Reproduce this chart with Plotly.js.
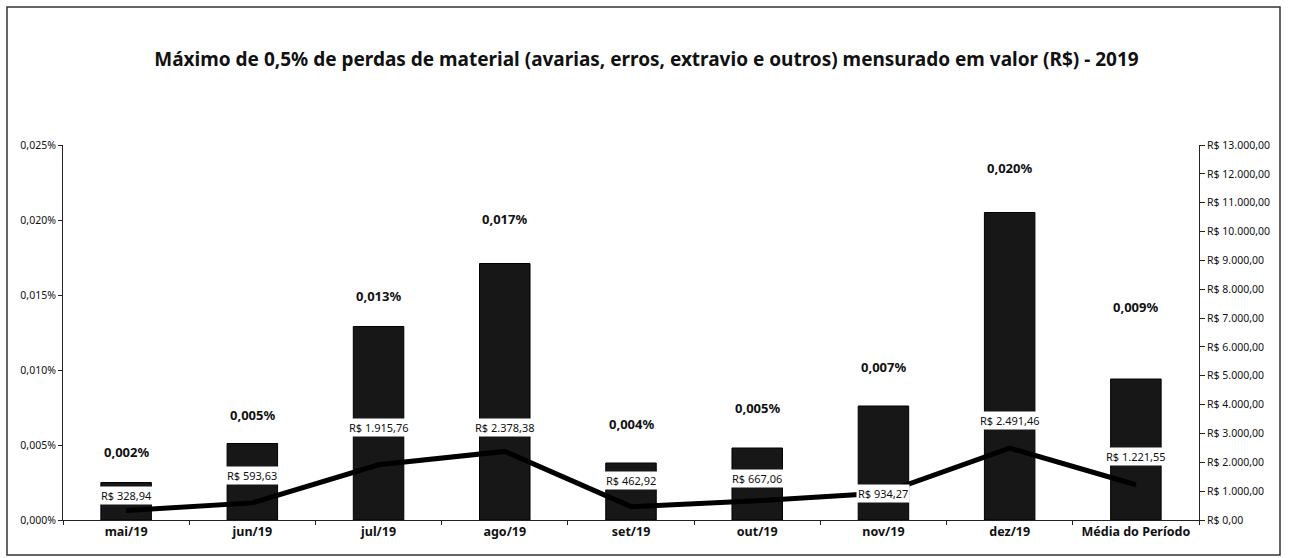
<!DOCTYPE html>
<html>
<head>
<meta charset="utf-8">
<script src="https://cdn.plot.ly/plotly-3.0.1.min.js"></script>
<style>html,body{margin:0;padding:0;background:#fff;}#chart{width:1293px;height:558px;}</style>
</head>
<body>
<div id="chart"></div>
<script>
// ---- data ----
const categories = ["mai/19", "jun/19", "jul/19", "ago/19", "set/19", "out/19", "nov/19", "dez/19", "Média do Período"];
const lossPercent = [0.0025, 0.0051, 0.0129, 0.0171, 0.0038, 0.0048, 0.0076, 0.0205, 0.0094];
const percentLabels = ["0,002%", "0,005%", "0,013%", "0,017%", "0,004%", "0,005%", "0,007%", "0,020%", "0,009%"];
const lossValue = [328.94, 593.63, 1915.76, 2378.38, 462.92, 667.06, 934.27, 2491.46, 1221.55];
const valueLabels = ["R$ 328,94", "R$ 593,63", "R$ 1.915,76", "R$ 2.378,38", "R$ 462,92", "R$ 667,06", "R$ 934,27", "R$ 2.491,46", "R$ 1.221,55"];

// ---- label placement (layout only) ----
const pctShift = [31, 29, 31, 45, 39, 40, 39, 45, 72];
const valShift = [15, 27, 37, 24, 26, 22, 0, 28, 28];

const FONT = "Noto Sans, Open Sans, sans-serif";

const bars = {
  type: "bar", x: categories, y: lossPercent, yaxis: "y",
  marker: {color: "#171717", line: {color: "#000", width: 1}},
  width: 0.4, hoverinfo: "skip", showlegend: false
};
const line = {
  type: "scatter", mode: "lines", x: categories, y: lossValue, yaxis: "y2",
  line: {color: "#000", width: 5}, hoverinfo: "skip", showlegend: false
};

const annotations = [];
categories.forEach((c, i) => {
  annotations.push({
    x: c, y: lossPercent[i], xref: "x", yref: "y", text: "<b>" + percentLabels[i] + "</b>",
    showarrow: false, yanchor: "middle", yshift: pctShift[i],
    font: {family: FONT, size: 13, color: "#111"}
  });
  annotations.push({
    x: c, y: lossValue[i], xref: "x", yref: "y2", text: valueLabels[i],
    showarrow: false, yanchor: "middle", yshift: valShift[i],
    bgcolor: "#fff", borderpad: 1,
    font: {family: FONT, size: 11, color: "#111"}
  });
});

const layout = {
  width: 1293, height: 558,
  margin: {l: 63, r: 94, t: 145, b: 38},
  paper_bgcolor: "#fff", plot_bgcolor: "#fff",
  separators: ",.",
  title: {text: "<b>Máximo de 0,5% de perdas de material (avarias, erros, extravio e outros) mensurado em valor (R$) - 2019</b>",
    x: 0.5, xanchor: "center", y: 0.893, yanchor: "middle",
    font: {family: FONT, size: 19, color: "#111"}},
  xaxis: {
    type: "category", showline: true, linecolor: "#222", linewidth: 1,
    ticks: "outside", tickson: "boundaries", ticklen: 4, tickcolor: "#222",
    tickfont: {family: FONT, size: 12.5, color: "#111", weight: "bold"},
    showgrid: false, zeroline: false
  },
  yaxis: {
    range: [0, 0.025], dtick: 0.005, tickformat: ".3f", ticksuffix: "%",
    showline: true, linecolor: "#222", linewidth: 1, ticks: "outside", ticklen: 4, tickcolor: "#222",
    tickfont: {family: FONT, size: 10.5, color: "#111"},
    showgrid: false, zeroline: false
  },
  yaxis2: {
    overlaying: "y", side: "right", range: [0, 13000], dtick: 1000,
    tickprefix: "R$ ", tickformat: ",.2f",
    showline: true, linecolor: "#222", linewidth: 1, ticks: "outside", ticklen: 5, tickcolor: "#222",
    tickfont: {family: FONT, size: 10.5, color: "#111"},
    showgrid: false, zeroline: false
  },
  annotations: annotations,
  shapes: [{
    type: "rect", xref: "paper", yref: "paper",
    x0: -0.0493, x1: 1.0713, y0: -0.0933, y1: 1.368,
    line: {color: "#333", width: 1.5}, fillcolor: "rgba(0,0,0,0)", layer: "below"
  }]
};

Plotly.newPlot("chart", [bars, line], layout, {displayModeBar: false, staticPlot: true});
</script>
</body>
</html>
